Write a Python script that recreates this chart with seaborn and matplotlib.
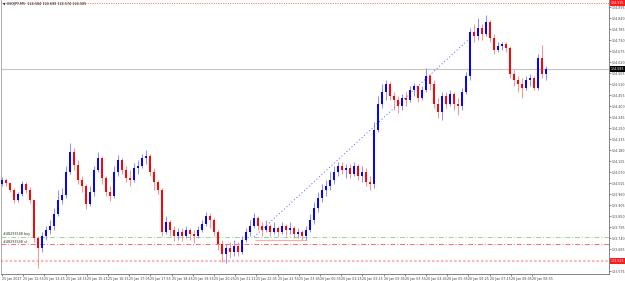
import numpy as np
import pandas as pd
import matplotlib
matplotlib.use("Agg")
import matplotlib.pyplot as plt
import seaborn as sns

# ---- data (USDJPY M5) ----
chart_title = "USDJPY,M5  124.584 124.600 124.574 124.585"
first_open = 124.01

closes = [
    124.03, 124.015, 123.98, 123.93, 123.96, 124.01, 123.98, 123.93, 123.74, 123.69,
    123.75, 123.78, 123.80, 123.86, 123.93, 123.955, 124.07, 124.17, 124.105, 124.03,
    124.00, 123.91, 123.97, 124.08, 124.14, 124.04, 123.97, 123.95, 124.07, 124.13,
    124.08, 124.04, 124.03, 124.09, 124.10, 124.14, 124.15, 124.07, 124.02, 123.98,
    123.77, 123.82, 123.78, 123.75, 123.77, 123.75, 123.78, 123.76, 123.75, 123.78,
    123.81, 123.85, 123.83, 123.77, 123.71, 123.66, 123.69, 123.67, 123.70, 123.67,
    123.73, 123.77, 123.80, 123.84, 123.80, 123.78, 123.80, 123.77, 123.79, 123.77,
    123.80, 123.78, 123.79, 123.76, 123.77, 123.75, 123.78, 123.83, 123.89, 123.94,
    123.98, 124.00, 124.03, 124.07, 124.10, 124.08, 124.09, 124.06, 124.10, 124.05,
    124.07, 124.02, 124.01, 124.28, 124.41, 124.47, 124.51, 124.45, 124.43, 124.40,
    124.44, 124.43, 124.48, 124.50, 124.44, 124.48, 124.55, 124.51, 124.41, 124.37,
    124.45, 124.41, 124.46, 124.41, 124.40, 124.47, 124.55, 124.77, 124.75, 124.79,
    124.76, 124.82, 124.74, 124.68, 124.70, 124.71, 124.69, 124.56, 124.53, 124.51,
    124.49, 124.53, 124.54, 124.49, 124.64, 124.56, 124.585,
]
highs = [
    124.045, 124.04, 124.02, 123.99, 123.97, 124.025, 124.02, 123.995, 123.91, 123.75,
    123.77, 123.80, 123.83, 123.89, 123.98, 123.99, 124.10, 124.215, 124.19, 124.13,
    124.05, 124.01, 124.00, 124.10, 124.17, 124.15, 124.05, 124.00, 124.10, 124.155,
    124.14, 124.10, 124.08, 124.115, 124.13, 124.16, 124.18, 124.16, 124.09, 124.03,
    123.99, 123.85, 123.83, 123.80, 123.79, 123.79, 123.80, 123.79, 123.78, 123.80,
    123.83, 123.87, 123.865, 123.84, 123.78, 123.73, 123.71, 123.72, 123.73, 123.72,
    123.75, 123.79, 123.83, 123.865, 123.85, 123.82, 123.83, 123.81, 123.82, 123.80,
    123.82, 123.81, 123.82, 123.80, 123.79, 123.78, 123.80, 123.86, 123.92, 123.97,
    124.01, 124.03, 124.07, 124.10, 124.12, 124.12, 124.11, 124.11, 124.12, 124.11,
    124.10, 124.09, 124.05, 124.32, 124.45, 124.51, 124.53, 124.52, 124.47, 124.45,
    124.46, 124.47, 124.50, 124.515, 124.50, 124.50, 124.59, 124.56, 124.53, 124.44,
    124.47, 124.47, 124.48, 124.47, 124.44, 124.49, 124.57, 124.79, 124.81, 124.84,
    124.81, 124.855, 124.83, 124.76, 124.72, 124.72, 124.72, 124.70, 124.58, 124.55,
    124.54, 124.55, 124.56, 124.55, 124.66, 124.705, 124.60,
]
lows = [
    124.00, 124.00, 123.97, 123.915, 123.92, 123.95, 123.965, 123.915, 123.72, 123.59,
    123.67, 123.73, 123.76, 123.78, 123.85, 123.91, 123.94, 124.06, 124.08, 124.01,
    123.97, 123.885, 123.90, 123.95, 124.07, 124.01, 123.95, 123.925, 123.94, 124.05,
    124.06, 124.02, 124.00, 124.02, 124.06, 124.09, 124.11, 124.05, 123.98, 123.96,
    123.75, 123.76, 123.75, 123.725, 123.73, 123.725, 123.74, 123.73, 123.715, 123.74,
    123.77, 123.80, 123.79, 123.75, 123.68, 123.62, 123.615, 123.64, 123.65, 123.65,
    123.66, 123.72, 123.75, 123.79, 123.78, 123.75, 123.77, 123.75, 123.76, 123.75,
    123.76, 123.75, 123.76, 123.74, 123.74, 123.73, 123.73, 123.77, 123.81, 123.87,
    123.92, 123.95, 123.98, 124.01, 124.05, 124.06, 124.04, 124.04, 124.05, 124.03,
    124.02, 124.00, 123.98, 123.99, 124.27, 124.39, 124.43, 124.43, 124.38, 124.365,
    124.38, 124.40, 124.42, 124.45, 124.42, 124.43, 124.47, 124.48, 124.39, 124.34,
    124.33, 124.39, 124.40, 124.38, 124.355, 124.38, 124.46, 124.53, 124.72, 124.73,
    124.73, 124.75, 124.72, 124.66, 124.67, 124.68, 124.67, 124.54, 124.50, 124.47,
    124.44, 124.48, 124.50, 124.48, 124.48, 124.54, 124.53,
]

price_ticks = [124.895, 124.840, 124.785, 124.730, 124.675, 124.620, 124.565,
               124.510, 124.455, 124.400, 124.345, 124.290, 124.235, 124.180,
               124.125, 124.070, 124.015, 123.960, 123.905, 123.850, 123.795,
               123.740, 123.685, 123.630, 123.575]

time_labels = ["25 Jan 2017", "25 Jan 12:55", "25 Jan 13:45", "25 Jan 14:35",
               "25 Jan 15:25", "25 Jan 16:15", "25 Jan 17:05", "25 Jan 17:55",
               "25 Jan 18:45", "25 Jan 19:35", "25 Jan 20:25", "25 Jan 21:15",
               "25 Jan 22:05", "25 Jan 22:55", "25 Jan 23:45", "26 Jan 00:35",
               "26 Jan 01:25", "26 Jan 02:15", "26 Jan 03:05", "26 Jan 03:55",
               "26 Jan 04:45", "26 Jan 05:35", "26 Jan 06:25", "26 Jan 07:15",
               "26 Jan 08:05", "26 Jan 08:55"]

bid_price = 124.585
day_high = 124.915
day_low = 123.625
order_open = 123.745
order_sl = 123.708
order_labels = ["#48293548 buy", "#48293548 sl"]
trend_bars = [63, 116.5]
trend_prices = [123.745, 124.73]
marker_bars = [63.25, 76.25]
marker_price = 123.73

# ---- build candles ----
df = pd.DataFrame({"close": closes, "high": highs, "low": lows})
df["open"] = [first_open] + closes[:-1]
df["bar"] = np.arange(len(df))
df["up"] = df["close"] >= df["open"]

sns.set_style("white")
fig = plt.figure(figsize=(6.25, 2.81), dpi=100)
ax = fig.add_axes([1 / 625, 7 / 281, 608 / 625, 274 / 281])
ax.set_xlim(-0.25, 151.75)
ax.set_ylim(123.56, 124.93)

# level lines
ax.axhline(bid_price, color="#c4c4c4", lw=0.8, zorder=1)
ax.axhline(day_high, color="#ff6a6a", lw=0.7, ls=(0, (1, 1.4)), zorder=1)
ax.axhline(day_low, color="#ffb4b4", lw=1.6, ls=(0, (1, 1)), zorder=1)
ax.axhline(order_open, color="#8fd88f", lw=0.7, ls=(0, (5, 2, 1, 2)), zorder=1)
ax.axhline(order_sl, color="#ff6a6a", lw=0.7, ls=(0, (5, 2, 1, 2)), zorder=1)
ax.hlines(marker_price, marker_bars[0], marker_bars[1], color="#ffaaaa", lw=0.8, zorder=1)

# candles
wick_col = np.where(df["up"], "#8c8cff", "#ff8f8f")
body_col = np.where(df["up"], "#0000ff", "#ff0000")
ax.vlines(df["bar"], df["low"], df["high"], colors=wick_col, lw=0.7, zorder=2)
ax.vlines(df["bar"], df["open"], df["close"], colors=body_col, lw=1.4, zorder=3)

# trend line
sns.lineplot(x=trend_bars, y=trend_prices, ax=ax, color="#5a5aff", lw=0.7,
             linestyle=(0, (1, 2.5)), zorder=2)

# texts
ax.text(0.004, 0.986, "\u25BC " + chart_title, transform=ax.transAxes,
        fontsize=2.4, va="center", ha="left", color="#111")
for lvl, lab in zip([order_open, order_sl], order_labels):
    ax.text(0.003, lvl + 0.004, lab, fontsize=2.4, va="bottom", ha="left", color="#333",
            transform=ax.get_yaxis_transform())

# right price axis
ax.yaxis.tick_right()
ax.set_yticks(price_ticks)
ax.set_yticklabels([f"{p:.3f}" for p in price_ticks])
ax.tick_params(axis="y", which="both", right=True, left=False, length=1.2, width=0.5,
               pad=0.8, labelsize=2.3, labelcolor="#444", color="#555", direction="out")

# price tags
for lvl, fc in [(day_high, "#ff1a1a"), (bid_price, "#000000"), (day_low, "#ff1a1a")]:
    ax.annotate(f"{lvl:.3f}", xy=(1.0035, lvl), xycoords=("axes fraction", "data"),
                fontsize=2.3, color="white", va="center", ha="left", zorder=5,
                annotation_clip=False,
                bbox=dict(boxstyle="square,pad=0.25", fc=fc, ec="none"))

# time axis
ax.set_xticks([5.3 * j for j in range(len(time_labels))])
ax.set_xticklabels(time_labels, ha="left")
ax.tick_params(axis="x", bottom=True, length=1.5, width=0.5, pad=0.8,
               labelsize=2.3, labelcolor="#444", color="#555", direction="out")

ax.spines["top"].set_visible(False)
ax.spines["left"].set_color("#a0a0a0")
ax.spines["bottom"].set_color("#707070")
ax.spines["right"].set_color("#707070")
for s in ["left", "bottom", "right"]:
    ax.spines[s].set_linewidth(0.6)
ax.set_xlabel("")
ax.set_ylabel("")

fig.savefig("out.png", dpi=100)
